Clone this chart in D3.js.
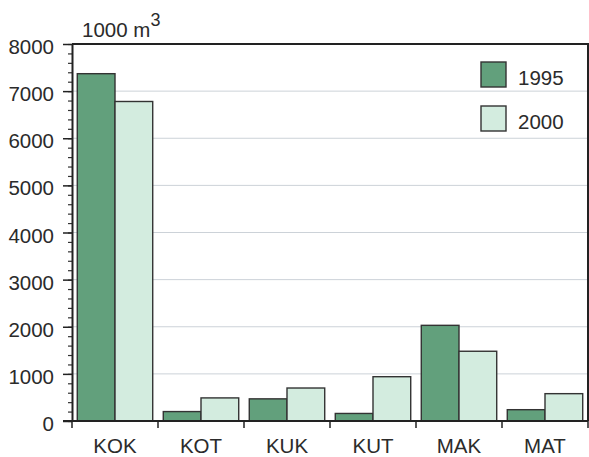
<!DOCTYPE html>
<html>
<head>
<meta charset="utf-8">
<script src="https://cdn.jsdelivr.net/npm/d3@7"></script>
<style>
  html, body { margin: 0; padding: 0; background: #fff; }
  svg { display: block; }
  text { font-family: "Liberation Sans", Arial, Helvetica, sans-serif; fill: #2b2b2b; }
</style>
</head>
<body>
<svg id="chart" width="589" height="457"></svg>
<script>
const categories = ["KOK", "KOT", "KUK", "KUT", "MAK", "MAT"];
const seriesNames = ["1995", "2000"];
const values1995 = [7370, 200, 470, 160, 2030, 240];
const values2000 = [6780, 490, 700, 940, 1480, 580];
const yTicks = [0, 1000, 2000, 3000, 4000, 5000, 6000, 7000, 8000];
const unitLabel = "1000 m";
const unitSup = "3";

const colors = { "1995": "#62a07c", "2000": "#d3ecdf" };
const mLeft = 72, mRight = 588, mTop = 44, mBottom = 421;
const fs = 20.5;

const svg = d3.select("#chart");

const x = d3.scaleBand().domain(categories).range([mLeft, mRight]).padding(0);
const xs = d3.scaleBand().domain(seriesNames).range([0, x.bandwidth()]).paddingInner(0).paddingOuter(0.14);
const y = d3.scaleLinear().domain([0, 8000]).range([mBottom, mTop]);

const table = categories.map((c, i) => ({ cat: c, "1995": values1995[i], "2000": values2000[i] }));

// gridlines
svg.append("g").selectAll("line").data(yTicks.filter(v => v > 0 && v < 8000)).join("line")
  .attr("x1", mLeft).attr("x2", mRight)
  .attr("y1", d => y(d)).attr("y2", d => y(d))
  .attr("stroke", "#ccd2d8").attr("stroke-width", 1);

// bars
const groups = svg.append("g").selectAll("g").data(table).join("g")
  .attr("transform", d => `translate(${x(d.cat)},0)`);
groups.selectAll("rect").data(d => seriesNames.map(s => ({ s, v: d[s] }))).join("rect")
  .attr("x", d => xs(d.s))
  .attr("width", xs.bandwidth())
  .attr("y", d => y(d.v))
  .attr("height", d => y(0) - y(d.v))
  .attr("fill", d => colors[d.s])
  .attr("stroke", "#333").attr("stroke-width", 1.4);

// frame top and right
svg.append("path")
  .attr("d", `M${mLeft},${mTop}H${mRight}V${mBottom}`)
  .attr("fill", "none").attr("stroke", "#222").attr("stroke-width", 2);

// y minor ticks
const yMinor = svg.append("g").attr("transform", `translate(${mLeft},0)`)
  .call(d3.axisLeft(y).tickValues(d3.range(0, 8001, 200)).tickSize(4).tickFormat(""));
yMinor.select(".domain").remove();
yMinor.selectAll("line").attr("stroke", "#333").attr("stroke-width", 1.2);

// y major axis
const yAx = svg.append("g").attr("transform", `translate(${mLeft},0)`)
  .call(d3.axisLeft(y).tickValues(yTicks).tickFormat(d3.format("d")).tickSize(9).tickPadding(9).tickSizeOuter(0));
yAx.attr("font-size", fs).attr("font-family", '"Liberation Sans", Arial, sans-serif');
yAx.select(".domain").attr("stroke", "#222").attr("stroke-width", 2);
yAx.selectAll(".tick line").attr("stroke", "#222").attr("stroke-width", 1.5);
yAx.selectAll(".tick text")
  .attr("fill", "#2b2b2b")
  .attr("dy", "0.32em").attr("y", 3);

// x axis
svg.append("line").attr("x1", mLeft - 9).attr("x2", mRight).attr("y1", mBottom).attr("y2", mBottom)
  .attr("stroke", "#222").attr("stroke-width", 2);
const boundaries = categories.map(c => x(c)).concat([x(categories[categories.length - 1]) + x.bandwidth()]);
svg.append("g").selectAll("line").data(boundaries).join("line")
  .attr("x1", d => d).attr("x2", d => d)
  .attr("y1", mBottom).attr("y2", mBottom + 7)
  .attr("stroke", "#222").attr("stroke-width", 1.5);
svg.append("g").selectAll("text").data(categories).join("text")
  .attr("x", d => x(d) + x.bandwidth() / 2)
  .attr("y", 453)
  .attr("text-anchor", "middle")
  .attr("font-size", fs)
  .text(d => d);

// unit label
const t = svg.append("text").attr("x", 82).attr("y", 37).attr("font-size", fs);
t.append("tspan").text(unitLabel);
t.append("tspan").attr("dy", -11).attr("font-size", 18).text(unitSup);

// legend
const leg = svg.append("g").selectAll("g").data(seriesNames).join("g")
  .attr("transform", (d, i) => `translate(481,${62 + i * 44})`);
leg.append("rect").attr("width", 25).attr("height", 25)
  .attr("fill", d => colors[d]).attr("stroke", "#333").attr("stroke-width", 1.4);
leg.append("text").attr("x", 37).attr("y", 23).attr("font-size", fs).text(d => d);
</script>
</body>
</html>
